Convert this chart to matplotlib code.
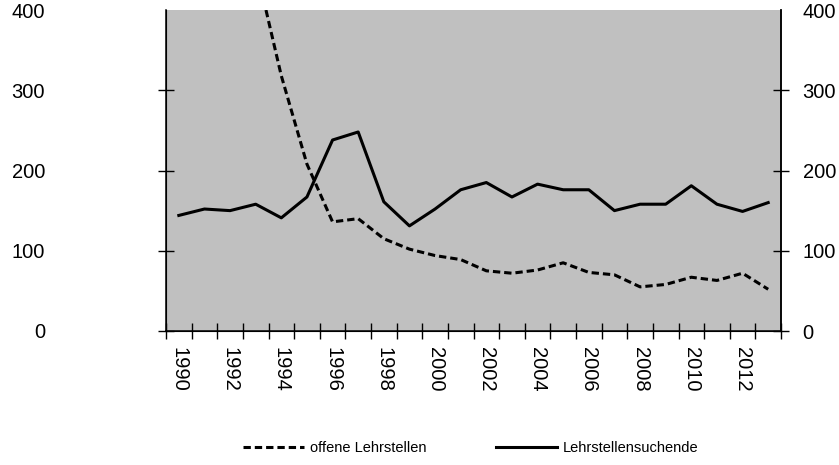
import matplotlib.pyplot as plt
from matplotlib.ticker import MultipleLocator, FixedLocator

plt.rcParams['font.family'] = ['Liberation Sans', 'DejaVu Sans']

years = list(range(1990, 2014))
# offene Lehrstellen (values before 1994 are above the visible range)
offene = [700, 640, 560, 455, 318, 208, 136, 140, 115, 102, 94, 89,
          75, 72, 76, 85, 73, 70, 55, 58, 67, 63, 72, 52]
# Lehrstellensuchende
suchende = [144, 152, 150, 158, 141, 167, 238, 248, 161, 131, 152, 176,
            185, 167, 183, 176, 176, 150, 158, 158, 181, 158, 149, 160]
year_labels = [str(y) for y in years[::2]]
y_ticks = [0, 100, 200, 300, 400]

fig = plt.figure(figsize=(8.39, 4.65), dpi=100)
ax = fig.add_axes([166 / 839, 1 - 331 / 465, 615 / 839, 321 / 465])
ax.set_facecolor('#c0c0c0')

l1, = ax.plot(years, offene, color='black', lw=2.2, label='offene Lehrstellen')
l1.set_dashes([2.4, 1.3])
l2, = ax.plot(years, suchende, color='black', lw=2.2, label='Lehrstellensuchende')

ax.set_xlim(1989.5, 2013.5)
ax.set_ylim(0, 400)
ax.set_yticks(y_ticks)

ax.spines['top'].set_visible(False)
for s in ['left', 'right', 'bottom']:
    ax.spines[s].set_linewidth(1.1)

# x: labels at category centres, tick marks at category borders
ax.xaxis.set_major_locator(FixedLocator(years[::2]))
ax.set_xticklabels(year_labels, rotation=270, fontsize=14.5)
ax.xaxis.set_minor_locator(MultipleLocator(1, offset=0.5))
ax.tick_params(axis='x', which='major', length=0, pad=11.5)
ax.tick_params(axis='x', which='minor', direction='inout', length=12, width=1)

ax.tick_params(axis='y', direction='inout', length=12, width=1,
               labelsize=14.5, pad=81)

ax2 = ax.twinx()
ax2.set_ylim(0, 400)
ax2.set_yticks(y_ticks)
ax2.spines['top'].set_visible(False)
ax2.spines['right'].set_linewidth(1.1)
ax2.tick_params(axis='y', direction='inout', length=12, width=1,
                labelsize=14.5, pad=9.5)

# no tick mark at the very top
ax.yaxis.get_major_ticks()[-1].tick1line.set_visible(False)
ax2.yaxis.get_major_ticks()[-1].tick2line.set_visible(False)

fig.legend(handles=[l1, l2], loc='center', bbox_to_anchor=(0.561, 1 - 448 / 465),
           ncol=2, frameon=False, fontsize=10.5, handlelength=4.2,
           handletextpad=0.4, columnspacing=4.8)

fig.savefig('out.png', dpi=100)
